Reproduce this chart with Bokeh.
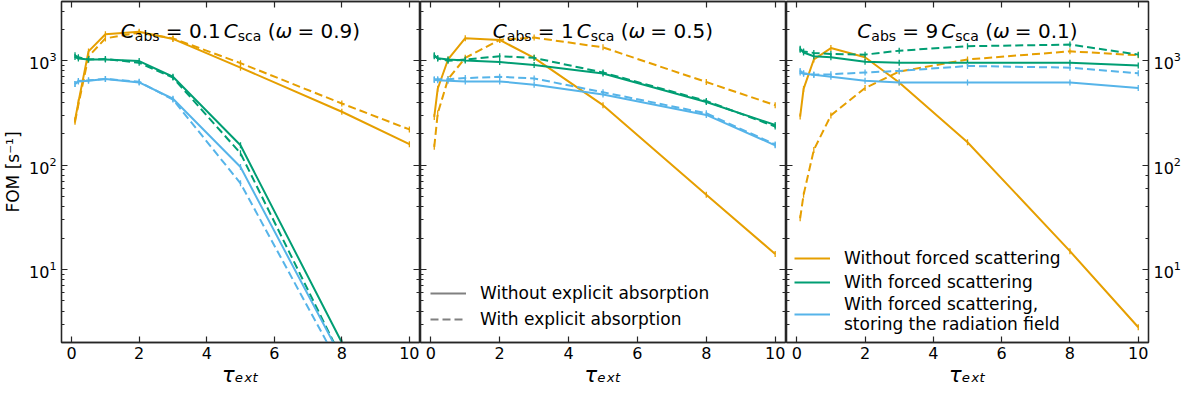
import math
from bokeh.plotting import figure
from bokeh.layouts import row
from bokeh.models import (Range1d, LogAxis, LinearAxis, SingleIntervalTicker, LogTicker,
                          CustomJSTickFormatter, Label)
from bokeh.embed import file_html
from bokeh.resources import INLINE

# ---------------- data ----------------
TAU = [0.1, 0.2, 0.5, 1, 2, 3, 5, 8, 10]
NAN = float("nan")

# panel 1: C_abs = 0.1 C_sca (omega = 0.9)
p1_none_solid = [270, 400, 1230, 1795, 1900, 1620, 860, 325, 159]
p1_none_dash = [260, 380, 1100, 1640, 1860, 1640, 950, 390, 220]
p1_forced_solid = [1085, 1050, 1030, 1030, 993, 703, 155, 2.0, NAN]
p1_forced_dash = [1130, 1080, 1030, 1040, 958, 690, 130, 1.4, NAN]
p1_store_solid = [600, 635, 645, 668, 621, 433, 96, 1.4, NAN]
p1_store_dash = [600, 640, 650, 670, 630, 425, 67, 1.1, NAN]

# panel 2: C_abs = 1 C_sca (omega = 0.5)
p2_none_solid = [290, 540, 1030, 1645, 1585, 1067, 376, 52, 14.1]
p2_none_dash = [150, 313, 668, 1067, 1585, 1670, 1345, 626, 376]
p2_forced_solid = [1106, 1060, 1030, 1007, 972, 911, 755, 403, 243]
p2_forced_dash = [1130, 1050, 1000, 1030, 1106, 1067, 772, 412, 235]
p2_store_solid = [654, 650, 645, 635, 635, 591, 476, 303, 155]
p2_store_dash = [665, 665, 665, 683, 703, 678, 500, 314, 158]

# panel 3: C_abs = 9 C_sca (omega = 0.1)
p3_none_solid = [292, 538, 1030, 1325, 1083, 620, 166, 15, 2.8]
p3_none_dash = [31, 52, 140, 300, 548, 788, 1030, 1233, 1130]
p3_forced_solid = [1305, 1200, 1106, 1083, 979, 958, 958, 958, 904]
p3_forced_dash = [1277, 1230, 1189, 1163, 1146, 1250, 1380, 1430, 1146]
p3_store_solid = [772, 750, 734, 703, 645, 621, 621, 621, 549]
p3_store_dash = [800, 760, 734, 744, 772, 800, 892, 860, 758]

TITLES = [("0.1", "0.9"), ("1", "0.5"), ("9", "0.1")]
X_LABEL = "\u03c4\u2091\u2093\u209c"
Y_LABEL = "FOM [s\u207b\u00b9]"
LEGEND_STYLE = ["Without explicit absorption", "With explicit absorption"]
LEGEND_KIND = ["Without forced scattering", "With forced scattering",
               "With forced scattering,\nstoring the radiation field"]
X_TICKS_INTERVAL = 2
XMIN, XMAX = -0.3, 10.3
YMIN, YMAX = 2.0, 3700.0

ORANGE = "#E69F00"
GREEN = "#009E73"
BLUE = "#56B4E9"
GREY = "#808080"
SPINE = "#262626"
FONT = "DejaVu Sans"
DASH = "8 4"
H = 389

yr = Range1d(YMIN, YMAX)


def style_axis(ax, labels):
    ax.axis_line_color = SPINE
    ax.axis_line_width = 1.3
    ax.major_tick_in = 6
    ax.major_tick_out = 0
    ax.minor_tick_in = 3
    ax.minor_tick_out = 0
    ax.major_tick_line_color = SPINE
    ax.major_tick_line_width = 1.2
    ax.minor_tick_line_color = SPINE
    ax.major_label_text_font = FONT
    ax.major_label_text_font_size = "16px"
    ax.major_label_text_color = "black"
    if not labels:
        ax.formatter = CustomJSTickFormatter(code="return ''")
        ax.major_label_text_font_size = "0px"
        ax.major_label_standoff = 0


def make_fig(width, left, right, ylabels_left, ylabels_right):
    p = figure(width=width, height=H, x_range=Range1d(XMIN, XMAX), y_range=yr,
               y_axis_type="log", output_backend="svg", toolbar_location=None,
               min_border_left=left, min_border_right=right,
               min_border_top=1, min_border_bottom=40)
    p.grid.visible = False
    p.outline_line_color = SPINE
    p.outline_line_width = 1.3
    p.background_fill_color = "white"
    p.border_fill_color = "white"
    # bottom x axis
    xa = p.xaxis[0]
    xa.ticker = SingleIntervalTicker(interval=X_TICKS_INTERVAL, num_minor_ticks=0)
    style_axis(xa, True)
    xa.major_label_standoff = 4
    xa.axis_label = X_LABEL
    xa.axis_label_text_font = FONT
    xa.axis_label_text_font_size = "21px"
    xa.axis_label_text_font_style = "italic"
    xa.axis_label_text_color = "black"
    xa.axis_label_standoff = 1
    # left y axis
    ya = p.yaxis[0]
    style_axis(ya, ylabels_left)
    # top axis
    top = LinearAxis(ticker=SingleIntervalTicker(interval=X_TICKS_INTERVAL, num_minor_ticks=0))
    style_axis(top, False)
    p.add_layout(top, "above")
    # right axis
    ra = LogAxis(ticker=LogTicker())
    style_axis(ra, ylabels_right)
    p.add_layout(ra, "right")
    return p


def add_series(p, vals, color, dash, legend=None):
    kw = dict(color=color, line_width=2)
    if dash:
        kw["line_dash"] = DASH
    if legend:
        kw["legend_label"] = legend
    p.line(TAU, vals, **kw)
    p.scatter(TAU, vals, marker="dash", angle=math.pi / 2, size=6,
              line_color=color, line_width=1.3)


def add_title(p, cval, wval):
    xc = 0.5 * (XMIN + XMAX)
    w = {"0.1": 31.8, "1": 12.7, "9": 12.7}[cval]
    x2 = 45 + 16.8 + 6.4 + w + 3
    pieces = [
        ("C", 0, 0, "20px", "italic"),
        ("abs", 14, -5, "14px", "normal"),
        ("= " + cval, 45, 0, "20px", "normal"),
        ("C", x2, 0, "20px", "italic"),
        ("sca", x2 + 14, -5, "14px", "normal"),
        ("(", x2 + 44, 0, "20px", "normal"),
        ("\u03c9", x2 + 51.8, 0, "20px", "italic"),
        ("= " + wval + ")", x2 + 73.6, 0, "20px", "normal"),
    ]
    total = x2 + 73.6 + 62.8
    s = -total / 2
    for txt, dx, dy, fs, style in pieces:
        p.add_layout(Label(x=xc, y=YMAX, x_units="data", y_units="data",
                           x_offset=s + dx, y_offset=-29 + dy, text=txt,
                           text_font=FONT, text_font_size=fs, text_font_style=style,
                           text_align="left", text_baseline="alphabetic",
                           text_color="black"))


FW = 365
p1 = make_fig(54 + FW + 1, 54, 1, True, False)
p2 = make_fig(FW + 1, 0, 1, False, False)
p3 = make_fig(FW + 32, 0, 32, False, True)

p1.yaxis[0].axis_label = Y_LABEL
p1.yaxis[0].axis_label_text_font = FONT
p1.yaxis[0].axis_label_text_font_size = "17px"
p1.yaxis[0].axis_label_text_font_style = "normal"
p1.yaxis[0].axis_label_text_color = "black"
p1.yaxis[0].axis_label_standoff = 3

panels = [
    (p1, [p1_none_solid, p1_none_dash, p1_forced_solid, p1_forced_dash, p1_store_solid, p1_store_dash]),
    (p2, [p2_none_solid, p2_none_dash, p2_forced_solid, p2_forced_dash, p2_store_solid, p2_store_dash]),
    (p3, [p3_none_solid, p3_none_dash, p3_forced_solid, p3_forced_dash, p3_store_solid, p3_store_dash]),
]

for i, (p, series) in enumerate(panels):
    cols = [ORANGE, ORANGE, GREEN, GREEN, BLUE, BLUE]
    for j, (vals, c) in enumerate(zip(series, cols)):
        dash = (j % 2 == 1)
        leg = LEGEND_KIND[j // 2] if (i == 2 and not dash) else None
        add_series(p, vals, c, dash, leg)
    add_title(p, *TITLES[i])

# legend in panel 2 (line styles) -- renderers without visible data
p2.line([NAN], [NAN], color=GREY, line_width=2, legend_label=LEGEND_STYLE[0])
p2.line([NAN], [NAN], color=GREY, line_width=2, line_dash=DASH, legend_label=LEGEND_STYLE[1])

for p in (p2, p3):
    lg = p.legend[0]
    lg.location = "bottom_left"
    lg.border_line_color = None
    lg.background_fill_alpha = 0
    lg.label_text_font = FONT
    lg.label_text_font_size = "17px"
    lg.label_text_color = "black"
    lg.glyph_width = 36
    lg.glyph_height = 24
    lg.label_height = 24
    lg.label_standoff = 14
    lg.spacing = 0
    lg.padding = 6
    lg.margin = 8

lg2 = p2.legend[0]
lg2.glyph_height = 26
lg2.label_height = 26
lg2.margin = 10
lg2.padding = 6

layout = row(p1, p2, p3)
open("out.html", "w").write(file_html(layout, INLINE))
